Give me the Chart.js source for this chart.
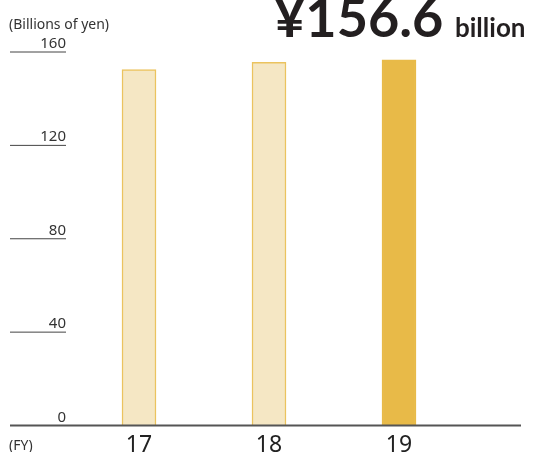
<!DOCTYPE html>
<html>
<head>
<meta charset="utf-8">
<script src="https://cdn.jsdelivr.net/npm/chart.js@4/dist/chart.umd.min.js"></script>
<style>
  html, body { margin: 0; padding: 0; background: #fff; }
  #wrap { position: relative; width: 533px; height: 452px; }
</style>
</head>
<body>
<div id="wrap"><canvas id="sales"></canvas></div>
<script>
// data
const years = ['17', '18', '19'];
const sales = [152.5, 155.6, 156.6];
const yTicks = [0, 40, 80, 120, 160];

const FONT = "Lato, 'Noto Sans', sans-serif";
const SMALL = "'Noto Sans', sans-serif";

// draws the axis labels, short tick lines, baseline and headline
const decor = {
    id: 'decor',
    afterDraw(chart) {
        const ctx = chart.ctx;
        const x = chart.scales.x;
        const y = chart.scales.y;
        ctx.save();

        // short lines + labels for y ticks
        ctx.textAlign = 'right';
        ctx.textBaseline = 'alphabetic';
        ctx.font = '15px ' + SMALL;
        yTicks.forEach(v => {
            const py = y.getPixelForValue(v);
            if (v !== 0) {
                ctx.strokeStyle = '#444';
                ctx.lineWidth = 1;
                ctx.beginPath();
                ctx.moveTo(10, py);
                ctx.lineTo(66, py);
                ctx.stroke();
            }
            ctx.fillStyle = '#333';
            ctx.fillText(String(v), 66, py - 4);
        });

        // baseline across the whole width
        const base = y.getPixelForValue(0);
        ctx.strokeStyle = '#555';
        ctx.lineWidth = 2;
        ctx.beginPath();
        ctx.moveTo(10, base);
        ctx.lineTo(521, base);
        ctx.stroke();

        // category labels
        ctx.textAlign = 'center';
        ctx.fillStyle = '#222';
        ctx.font = '23px ' + SMALL;
        years.forEach((yr, i) => {
            ctx.fillText(yr, x.getPixelForValue(i), 452);
        });

        ctx.textAlign = 'left';
        ctx.fillStyle = '#333';
        ctx.font = '14px ' + SMALL;
        ctx.fillText('(FY)', 9, 450);
        ctx.fillText('(Billions of yen)', 9, 29);

        // headline
        ctx.fillStyle = '#231f20';
        ctx.font = 'bold 54px ' + FONT;
        ctx.fillText('¥' + sales[2].toFixed(1), 274, 37);
        ctx.font = 'bold 26px ' + FONT;
        ctx.fillText('billion', 455, 37);

        ctx.restore();
    }
};

new Chart(document.getElementById('sales'), {
    type: 'bar',
    data: {
        labels: years,
        datasets: [{
            data: sales,
            backgroundColor: ['#F5E7C4', '#F5E7C4', '#E8BA48'],
            borderColor: ['#EBC35E', '#EBC35E', '#E8BA48'],
            borderWidth: 1.5,
            barThickness: 34
        }]
    },
    options: {
        responsive: true,
        maintainAspectRatio: false,
        animation: false,
        layout: { padding: { left: 74, right: 69, top: 52, bottom: 26.5 } },
        plugins: { legend: { display: false }, tooltip: { enabled: false } },
        scales: {
            x: { display: false },
            y: { display: false, min: 0, max: 160 }
        }
    },
    plugins: [decor]
});
</script>
</body>
</html>
